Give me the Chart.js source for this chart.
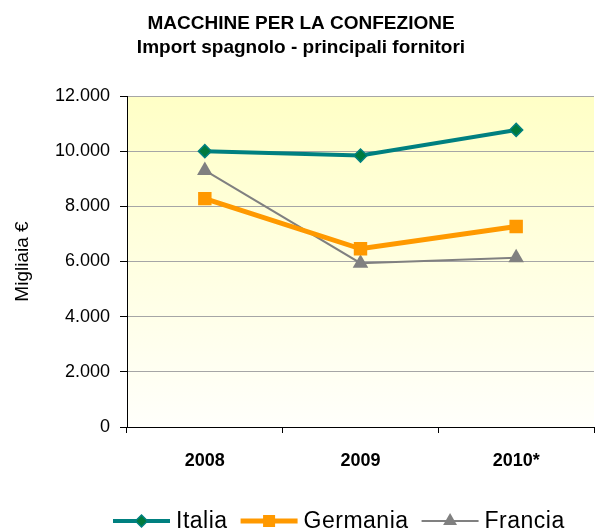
<!DOCTYPE html>
<html>
<head>
<meta charset="utf-8">
<script src="https://cdn.jsdelivr.net/npm/chart.js"></script>
<style>
html,body{margin:0;padding:0;background:#fff;}
canvas{display:block;}
</style>
</head>
<body>
<canvas id="c" width="595" height="531"></canvas>
<script>
const categories = ['2008', '2009', '2010*'];
const italia = [10000, 9840, 10770];
const germania = [8280, 6460, 7270];
const francia = [9300, 5940, 6140];
const seriesNames = ['Italia', 'Germania', 'Francia'];
const titleLines = ['MACCHINE PER LA CONFEZIONE', 'Import spagnolo - principali fornitori'];
const yAxisTitle = 'Migliaia €';
const yMin = 0, yMax = 12000, yStep = 2000;

const FONT = '"Liberation Sans", Arial, sans-serif';

function fmt(v) {
  return String(v).replace(/\B(?=(\d{3})+(?!\d))/g, '.');
}

function drawMarker(ctx, style, x, y, r, fill, stroke, bw) {
  ctx.save();
  ctx.beginPath();
  if (style === 'rectRot') {
    ctx.moveTo(x, y - r); ctx.lineTo(x + r, y); ctx.lineTo(x, y + r); ctx.lineTo(x - r, y); ctx.closePath();
  } else if (style === 'rect') {
    const s = r * Math.SQRT1_2;
    ctx.rect(x - s, y - s, 2 * s, 2 * s);
  } else if (style === 'triangle') {
    const hw = r * Math.sqrt(3) / 2;
    ctx.moveTo(x, y - r); ctx.lineTo(x + hw, y + r / 2); ctx.lineTo(x - hw, y + r / 2); ctx.closePath();
  }
  ctx.fillStyle = fill; ctx.fill();
  if (bw) { ctx.lineWidth = bw; ctx.strokeStyle = stroke; ctx.stroke(); }
  ctx.restore();
}

const bgPlugin = {
  id: 'bg',
  beforeDraw(chart) {
    const {ctx, chartArea: a} = chart;
    ctx.save();
    ctx.fillStyle = '#ffffff';
    ctx.fillRect(0, 0, chart.width, chart.height);
    const g = ctx.createLinearGradient(0, a.top, 0, a.bottom);
    g.addColorStop(0, '#FFFFC6');
    g.addColorStop(1, '#FFFFFB');
    ctx.fillStyle = g;
    ctx.fillRect(a.left, a.top, a.right - a.left, a.bottom - a.top);
    ctx.restore();
  }
};

const legendPlugin = {
  id: 'customLegend',
  afterDraw(chart) {
    const ctx = chart.ctx;
    const y = 521;
    let x = 113;
    ctx.save();
    ctx.font = '23px ' + FONT;
    if ('letterSpacing' in ctx) ctx.letterSpacing = '0.5px';
    ctx.textBaseline = 'middle';
    chart.data.datasets.forEach(ds => {
      const len = 57;
      ctx.beginPath();
      ctx.moveTo(x, y); ctx.lineTo(x + len, y);
      ctx.lineWidth = ds.borderWidth; ctx.strokeStyle = ds.borderColor; ctx.stroke();
      drawMarker(ctx, ds.pointStyle, x + len / 2, y, ds.legendRadius, ds.pointBackgroundColor, ds.pointBorderColor, ds.pointBorderWidth);
      const tx = x + len + 6;
      ctx.fillStyle = '#000';
      ctx.fillText(ds.label, tx, y + 1);
      x = tx + ctx.measureText(ds.label).width + 13;
    });
    ctx.restore();
  }
};

new Chart(document.getElementById('c'), {
  type: 'line',
  data: {
    labels: categories,
    datasets: [
      {
        label: seriesNames[0], data: italia,
        borderColor: '#008080', borderWidth: 4,
        pointStyle: 'rectRot', pointRadius: 6.5, legendRadius: 6,
        pointBackgroundColor: '#007A3D', pointBorderColor: '#008080', pointBorderWidth: 1.5
      },
      {
        label: seriesNames[1], data: germania,
        borderColor: '#FF9900', borderWidth: 5,
        pointStyle: 'rect', pointRadius: 9.5, legendRadius: 8.5,
        pointBackgroundColor: '#FF9900', pointBorderColor: '#FF9900', pointBorderWidth: 0
      },
      {
        label: seriesNames[2], data: francia,
        borderColor: '#808080', borderWidth: 2,
        pointStyle: 'triangle', pointRadius: 9, legendRadius: 8,
        pointBackgroundColor: '#808080', pointBorderColor: '#808080', pointBorderWidth: 0
      }
    ]
  },
  options: {
    responsive: false,
    animation: false,
    devicePixelRatio: 1,
    layout: { autoPadding: false, padding: { left: 8, right: 1, top: 0, bottom: 59 } },
    elements: { line: { tension: 0 } },
    plugins: {
      legend: { display: false },
      tooltip: { enabled: false },
      title: {
        display: true,
        text: titleLines,
        color: '#000',
        font: { family: FONT, size: 19, weight: 'bold', lineHeight: 1.3 },
        padding: { top: 11, bottom: 35.6 }
      }
    },
    scales: {
      x: {
        type: 'category',
        offset: true,
        afterFit(scale) { scale.height = 45; scale.paddingLeft = 0; scale.paddingRight = 0; },
        grid: { display: true, drawOnChartArea: false, drawTicks: true, tickLength: 6, tickColor: '#000', offset: true },
        border: { display: true, color: '#000', width: 1 },
        ticks: { color: '#000', font: { family: FONT, size: 18, weight: 'bold' }, padding: 17 }
      },
      y: {
        min: yMin, max: yMax,
        afterFit(scale) { scale.width = 119; },
        grid: { color: '#A6A6A6', lineWidth: 1, drawTicks: true, tickLength: 7, tickColor: '#000' },
        border: { display: true, color: '#000', width: 1 },
        ticks: { stepSize: yStep, color: '#000', font: { family: FONT, size: 18 }, padding: 10, callback: v => fmt(v) },
        title: { display: true, text: yAxisTitle, color: '#000', font: { family: FONT, size: 19 }, padding: { top: 3, bottom: 0 } }
      }
    }
  },
  plugins: [bgPlugin, legendPlugin]
});
</script>
</body>
</html>
